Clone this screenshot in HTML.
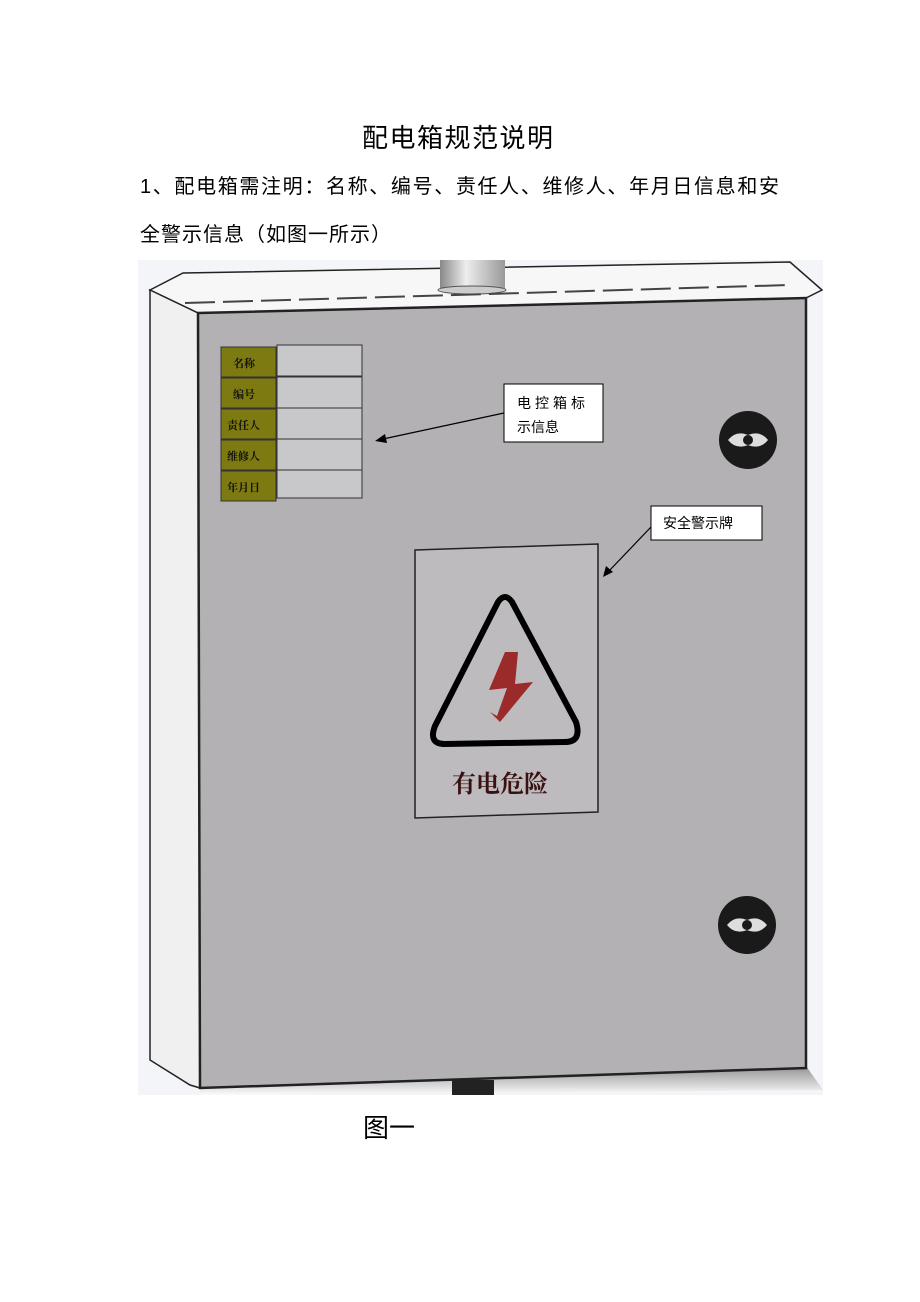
<!DOCTYPE html>
<html><head><meta charset="utf-8"><style>
body{margin:0;background:#fff;width:920px;height:1302px;position:relative;overflow:hidden;font-family:"Liberation Sans","Noto Sans CJK SC",sans-serif;}
.t{position:absolute;white-space:nowrap;color:#000;}
</style></head><body>
<div class="t" style="left:362px;top:118px;font-size:26px;letter-spacing:1.5px;">配电箱规范说明</div>
<div class="t" style="left:140px;top:170px;font-size:20px;letter-spacing:1.65px;">1、配电箱需注明：名称、编号、责任人、维修人、年月日信息和安</div>
<div class="t" style="left:140px;top:218px;font-size:20px;letter-spacing:1px;">全警示信息（如图一所示）</div>
<svg style="position:absolute;left:0;top:0" width="920" height="1302">
<defs><linearGradient id="pipe" x1="0" x2="1"><stop offset="0" stop-color="#888"/><stop offset="0.4" stop-color="#eee"/><stop offset="1" stop-color="#999"/></linearGradient>
<linearGradient id="sh" x1="0" x2="0" y1="0" y2="1"><stop offset="0" stop-color="#666"/><stop offset="1" stop-color="#fff"/></linearGradient></defs>
<rect x="138" y="260" width="685" height="835" fill="#f4f5f8"/>
<polygon points="200,1085 806,1066 823,1090 200,1095" fill="url(#sh)" opacity="0.7"/>
<rect x="452" y="1080" width="42" height="15" fill="#222"/>
<polygon points="150,290 183,273 790,262 822,290 806,298 198,313" fill="#f7f7f7" stroke="#222" stroke-width="1.5"/>
<rect x="440" y="260" width="65" height="30" fill="url(#pipe)"/>
<ellipse cx="472" cy="290" rx="34" ry="4" fill="#ccc" stroke="#555"/>
<polyline points="185,303 790,285" stroke="#444" stroke-width="2" fill="none" stroke-dasharray="30,8"/>
<polygon points="150,290 198,313 200,1088 190,1085 150,1060" fill="#f0f0f0" stroke="#222" stroke-width="1.5"/>
<polygon points="198,313 806,298 806,1068 200,1088" fill="#b3b1b4" stroke="#222" stroke-width="2.5"/>
<g stroke="#333" stroke-width="1">
<rect x="221" y="347" width="55" height="30" fill="#7c7a10"/>
<rect x="221" y="378" width="55" height="30" fill="#7c7a10"/>
<rect x="221" y="409" width="55" height="30" fill="#7c7a10"/>
<rect x="221" y="440" width="55" height="30" fill="#7c7a10"/>
<rect x="221" y="471" width="55" height="30" fill="#7c7a10"/>
<rect x="277" y="345" width="85" height="31" fill="#c8c7ca"/>
<rect x="277" y="377" width="85" height="31" fill="#c8c7ca"/>
<rect x="277" y="408" width="85" height="31" fill="#c8c7ca"/>
<rect x="277" y="439" width="85" height="31" fill="#c8c7ca"/>
<rect x="277" y="470" width="85" height="28" fill="#c8c7ca"/>
</g>
<g font-size="11" font-weight="bold" fill="#111" font-family="Noto Serif CJK SC,serif">
<text x="233" y="367">名称</text><text x="233" y="398">编号</text><text x="227" y="429">责任人</text><text x="227" y="460">维修人</text><text x="227" y="491">年月日</text></g>
<circle cx="748" cy="440" r="29" fill="#1a1a1a"/>
<path d="M728,440 q8,-10 20,-5 q12,-5 20,5 q-8,10 -20,5 q-12,5 -20,-5z" fill="#ddd"/><circle cx="748" cy="440" r="5" fill="#1a1a1a"/>
<circle cx="747" cy="925" r="29" fill="#1a1a1a"/>
<path d="M727,925 q8,-10 20,-5 q12,-5 20,5 q-8,10 -20,5 q-12,5 -20,-5z" fill="#ddd"/><circle cx="747" cy="925" r="5" fill="#1a1a1a"/>
<polygon points="415,550 598,544 598,812 415,818" fill="#bdbbbe" stroke="#222" stroke-width="1.5"/>
<path d="M498,602 Q505,592 512,602 L576,722 Q582,742 565,742 L445,744 Q428,744 435,726 Z" fill="none" stroke="#000" stroke-width="6"/>
<path d="M505,652 L489,690 L507,688 L497,716 L490,712 L500,722 L533,682 L515,684 L518,652Z" fill="#9b2a2a"/>
<text x="452" y="792" font-size="24" font-weight="bold" fill="#3a1010" font-family="Noto Serif CJK SC,serif">有电危险</text>
<rect x="504" y="384" width="99" height="58" fill="#fff" stroke="#000"/>
<text x="517" y="408" font-size="14" font-family="Noto Sans CJK SC,sans-serif" letter-spacing="4">电控箱标</text>
<text x="517" y="432" font-size="14" font-family="Noto Sans CJK SC,sans-serif">示信息</text>
<line x1="504" y1="413" x2="383" y2="439" stroke="#000" stroke-width="1.2"/>
<polygon points="375,441 385,434 387,443" fill="#000"/>
<rect x="651" y="506" width="111" height="34" fill="#fff" stroke="#000"/>
<text x="663" y="528" font-size="14" font-family="Noto Sans CJK SC,sans-serif">安全警示牌</text>
<line x1="651" y1="527" x2="608" y2="572" stroke="#000" stroke-width="1.2"/>
<polygon points="603,577 606,566 613,572" fill="#000"/>
</svg>
<div class="t" style="left:363px;top:1108px;font-size:26px;">图一</div>
</body></html>
